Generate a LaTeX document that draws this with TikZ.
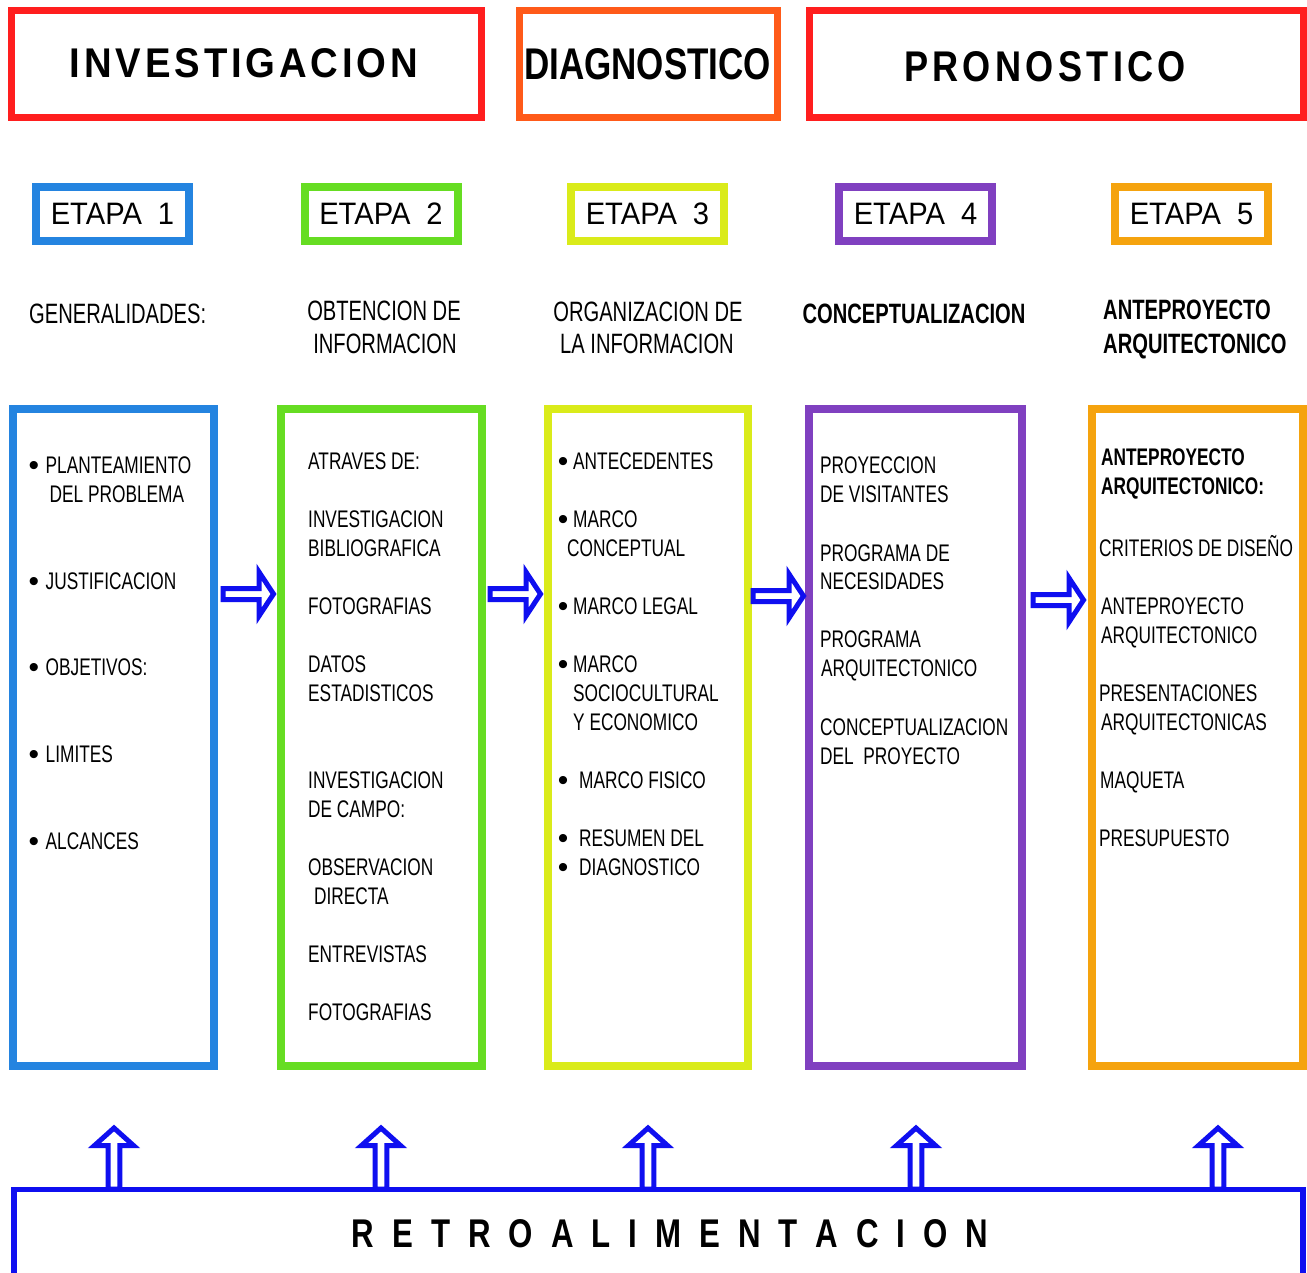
\documentclass[tikz,border=0pt]{standalone}
\usepackage{fontspec}
\usepackage{graphicx}
\setmainfont{Liberation Sans}
\newfontfamily\nf[FakeStretch=0.72]{Liberation Sans}
\newfontfamily\ef[FakeStretch=0.94]{Liberation Sans}
\newfontfamily\hf{Liberation Sans}
\newfontfamily\rf[FakeStretch=0.8]{Liberation Sans}
\makeatletter
\newcommand\spaced[2]{\let\sp@sep\relax\@tfor\sp@c:=#2\do{\sp@sep\sp@c\def\sp@sep{\kern#1}}}
\makeatother
\definecolor{cred}{RGB}{255,30,30}
\definecolor{corg}{RGB}{255,90,25}
\definecolor{cblue}{RGB}{36,132,224}
\definecolor{cgreen}{RGB}{102,221,34}
\definecolor{cyel}{RGB}{218,235,26}
\definecolor{cpur}{RGB}{128,64,192}
\definecolor{cora}{RGB}{245,163,14}
\definecolor{abl}{RGB}{15,15,240}
\begin{document}
\begin{tikzpicture}[x=1pt,y=-1pt,
  hbox/.style={draw=#1, line width=7pt, inner sep=0pt, minimum height=107pt},
  etapa/.style={draw=#1, line width=8pt, minimum width=153pt, minimum height=54pt, inner sep=0pt, font=\ef\fontsize{31}{31}\selectfont},
  col/.style={draw=#1, line width=8pt, inner sep=0pt, minimum height=657pt},
  body/.style={inner sep=0pt, anchor=base west, font=\nf\fontsize{24}{29}\selectfont},
  bodyb/.style={inner sep=0pt, anchor=base west, font=\nf\bfseries\fontsize{24}{29}\selectfont},
  bul/.style={inner sep=0pt, anchor=base, font=\hf\fontsize{30}{30}\selectfont},
  lab/.style={inner sep=0pt, anchor=base, font=\nf\fontsize{28}{32}\selectfont},
  labb/.style={inner sep=0pt, anchor=base, font=\nf\bfseries\fontsize{28}{32}\selectfont},
  arrline/.style={draw=abl, line width=5pt, fill=white, line join=miter},
  harrow/.pic={\path[arrline] (0,-5.5) -- (36,-5.5) -- (36,-22) -- (50.5,0) -- (36,22) -- (36,5.5) -- (0,5.5) -- cycle;},
  varrow/.pic={\path[arrline] (0,0) -- (19.5,17.5) -- (5.8,17.5) -- (5.8,61) -- (-5.8,61) -- (-5.8,17.5) -- (-19.5,17.5) -- cycle;}
]
\path[fill=white] (0,0) rectangle (1307,1273);
\useasboundingbox (0,0) rectangle (1307,1273);

% header boxes
\node[hbox=cred, minimum width=470pt] (hinv) at (246,64.5) {};
\node[hbox=corg, minimum width=258pt] (hdia) at (648,64.5) {};
\node[hbox=cred, minimum width=494pt] (hpro) at (1056,64.5) {};
\node[inner sep=0pt] (tinv) at (244,63.5) {\resizebox{348pt}{29pt}{\hf\bfseries\fontsize{40}{40}\selectfont\spaced{0.1em}{INVESTIGACION}}};
\node[inner sep=0pt] (tdia) at (647.5,64.5) {\resizebox{247pt}{31pt}{\hf\bfseries\fontsize{40}{40}\selectfont DIAGNOSTICO}};
\node[inner sep=0pt] (tpro) at (1045,67) {\resizebox{282pt}{30pt}{\hf\bfseries\fontsize{40}{40}\selectfont\spaced{0.12em}{PRONOSTICO}}};

% etapa boxes
\node[etapa=cblue] (e1) at (112.5,214) {ETAPA\hspace{16pt}1};
\node[etapa=cgreen] (e2) at (381,214) {ETAPA\hspace{16pt}2};
\node[etapa=cyel] (e3) at (647.5,214) {ETAPA\hspace{16pt}3};
\node[etapa=cpur] (e4) at (915.5,214) {ETAPA\hspace{16pt}4};
\node[etapa=cora] (e5) at (1191.5,214) {ETAPA\hspace{16pt}5};

% labels
\node[lab, anchor=base west] (l1) at (29,324) {GENERALIDADES:};
\node[lab] (l2a) at (384,321) {OBTENCION DE};
\node[lab] (l2b) at (385,353) {INFORMACION};
\node[lab] (l3a) at (648,322) {ORGANIZACION DE};
\node[lab] (l3b) at (647,354) {LA INFORMACION};
\node[labb] (l4) at (914,324) {CONCEPTUALIZACION};
\node[labb, anchor=base west] (l5a) at (1103,320) {ANTEPROYECTO};
\node[labb, anchor=base west] (l5b) at (1103,353) {ARQUITECTONICO};

% column boxes
\node[col=cblue, minimum width=201pt] (c1) at (113.5,737.5) {};
\node[col=cgreen, minimum width=201pt] (c2) at (381.5,737.5) {};
\node[col=cyel, minimum width=200pt] (c3) at (648,737.5) {};
\node[col=cpur, minimum width=213pt] (c4) at (915.5,737.5) {};
\node[col=cora, minimum width=211pt] (c5) at (1197.5,737.5) {};

% box 1
\foreach \xx/\yy/\tx [count=\i] in {45.5/473/PLANTEAMIENTO, 49.5/502/DEL PROBLEMA, 45.5/589/JUSTIFICACION, 45.5/675/OBJETIVOS:, 45.5/762/LIMITES, 45.5/849/ALCANCES}
  \node[body] (b1t\i) at (\xx,\yy) {\tx};
\foreach \yy [count=\i] in {475,591,677,764,851}
  \node[bul] (b1b\i) at (34,\yy) {\textbullet};

% box 2
\foreach \xx/\yy/\tx [count=\i] in {308/469/ATRAVES DE:, 308/527/INVESTIGACION, 308/556/BIBLIOGRAFICA, 308/614/FOTOGRAFIAS, 308/672/DATOS, 308/701/ESTADISTICOS, 308/788/INVESTIGACION, 308/817/DE CAMPO:, 308/875/OBSERVACION, 314/904/DIRECTA, 308/962/ENTREVISTAS, 308/1020/FOTOGRAFIAS}
  \node[body] (b2t\i) at (\xx,\yy) {\tx};

% box 3
\foreach \xx/\yy/\tx [count=\i] in {573/469/ANTECEDENTES, 573/527/MARCO, 567/556/CONCEPTUAL, 573/614/MARCO LEGAL, 573/672/MARCO, 573/701/SOCIOCULTURAL, 573/730/Y ECONOMICO, 579/788/MARCO FISICO, 579/846/RESUMEN DEL, 579/875/DIAGNOSTICO}
  \node[body] (b3t\i) at (\xx,\yy) {\tx};
\foreach \yy [count=\i] in {471,529,616,674,790,848,877}
  \node[bul] (b3b\i) at (563,\yy) {\textbullet};

% box 4
\foreach \xx/\yy/\tx [count=\i] in {820/473/PROYECCION, 820/502/DE VISITANTES, 820/561/PROGRAMA DE, 820/589/NECESIDADES, 820/647/PROGRAMA, 821/676/ARQUITECTONICO, 820/735/CONCEPTUALIZACION, 820/764/DEL~~PROYECTO}
  \node[body] (b4t\i) at (\xx,\yy) {\tx};

% box 5
\node[bodyb] (b5h1) at (1101,465) {ANTEPROYECTO};
\node[bodyb] (b5h2) at (1101,494) {ARQUITECTONICO:};
\foreach \xx/\yy/\tx [count=\i] in {1099/556/CRITERIOS DE DISEÑO, 1101/614/ANTEPROYECTO, 1101/643/ARQUITECTONICO, 1099/701/PRESENTACIONES, 1101/730/ARQUITECTONICAS, 1100/788/MAQUETA, 1099/846/PRESUPUESTO}
  \node[body] (b5t\i) at (\xx,\yy) {\tx};

% horizontal arrows
\pic (ha1) at (223,594) {harrow};
\pic (ha2) at (490,594) {harrow};
\pic (ha3) at (753,596) {harrow};
\pic (ha4) at (1033,600) {harrow};

% retroalimentacion
\node[draw=abl, line width=5.5pt, inner sep=0pt, minimum width=1289pt, minimum height=122pt] (retro) at (658.5,1250.5) {};
\node[inner sep=0pt] (tretro) at (670,1234) {\resizebox{636pt}{28pt}{\rf\bfseries\fontsize{40}{40}\selectfont\spaced{0.46em}{RETROALIMENTACION}}};

% vertical arrows
\foreach \xx [count=\i] in {114,381,648,916,1218}
  \pic (va\i) at (\xx,1128) {varrow};
\end{tikzpicture}
\end{document}
